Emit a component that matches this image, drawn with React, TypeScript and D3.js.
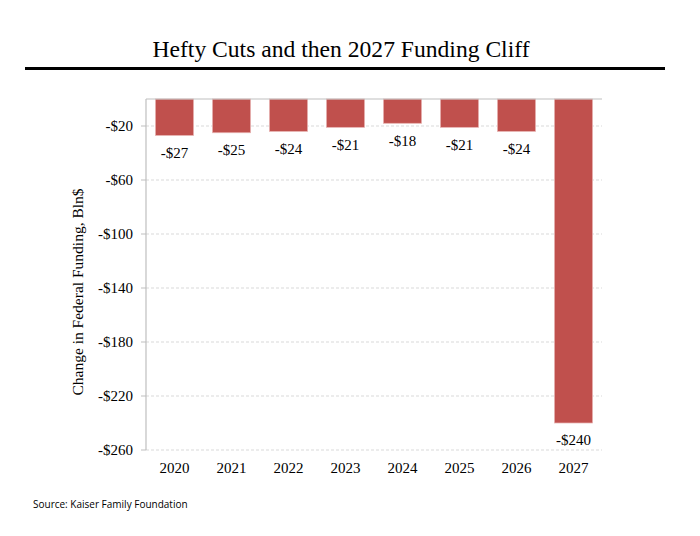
import React from "react";
import * as d3 from "d3";

const years = ["2020", "2021", "2022", "2023", "2024", "2025", "2026", "2027"];
const values = [-27, -25, -24, -21, -18, -21, -24, -240];
const yTicks = [-20, -60, -100, -140, -180, -220, -260];

const W = 700;
const H = 536;
const left = 146;
const right = 602;
const top = 99;
const bottom = 450;
const serif = "'Liberation Serif', 'Times New Roman', serif";

export default function App() {
  const x = d3.scaleBand<string>().domain(years).range([left, right]).paddingInner(0.33).paddingOuter(0.165);
  const y = d3.scaleLinear().domain([0, -260]).range([top, bottom]);

  return (
    <svg width={W} height={H} style={{ position: "absolute", left: 0, top: 0, background: "#fff" }}>
      <text x={341} y={57} textAnchor="middle" fontFamily={serif} fontSize={23.6} fill="#000">
        Hefty Cuts and then 2027 Funding Cliff
      </text>
      <line x1={25} x2={665} y1={68.5} y2={68.5} stroke="#000" strokeWidth={3} />

      {yTicks.map((t) => (
        <g key={t}>
          <line x1={left} x2={right} y1={y(t)} y2={y(t)} stroke="#d9d9d9" strokeDasharray="3,2" />
          <line x1={left - 5} x2={left} y1={y(t)} y2={y(t)} stroke="#bfbfbf" />
          <text x={left - 13} y={y(t)} dy="0.35em" textAnchor="end" fontFamily={serif} fontSize={15} fill="#000">
            {`-$${Math.abs(t)}`}
          </text>
        </g>
      ))}

      {values.map((v, i) => (
        <g key={years[i]}>
          <rect
            x={x(years[i])!}
            y={y(0)}
            width={x.bandwidth()}
            height={y(v) - y(0)}
            fill="#C0504D"
            stroke="#e8b4b3"
            strokeWidth={0.75}
          />
          <text
            x={x(years[i])! + x.bandwidth() / 2}
            y={y(v) + 17}
            dy="0.35em"
            textAnchor="middle"
            fontFamily={serif}
            fontSize={15}
            fill="#000"
          >
            {`-$${Math.abs(v)}`}
          </text>
          <text
            x={x(years[i])! + x.bandwidth() / 2}
            y={468}
            dy="0.35em"
            textAnchor="middle"
            fontFamily={serif}
            fontSize={15}
            fill="#000"
          >
            {years[i]}
          </text>
        </g>
      ))}

      <line x1={left} x2={right} y1={y(0)} y2={y(0)} stroke="#bfbfbf" strokeWidth={1.2} />
      <line x1={left} x2={left} y1={y(0)} y2={y(-260)} stroke="#bfbfbf" strokeWidth={1.2} />

      <text
        transform={`translate(78, 292) rotate(-90)`}
        dy="0.35em"
        textAnchor="middle"
        fontFamily={serif}
        fontSize={15.5}
        fill="#000"
      >
        Change in Federal Funding, Bln$
      </text>

      <text x={33} y={508} fontFamily="'Open Sans', sans-serif" fontSize={10} fill="#000">
        Source: Kaiser Family Foundation
      </text>
    </svg>
  );
}
